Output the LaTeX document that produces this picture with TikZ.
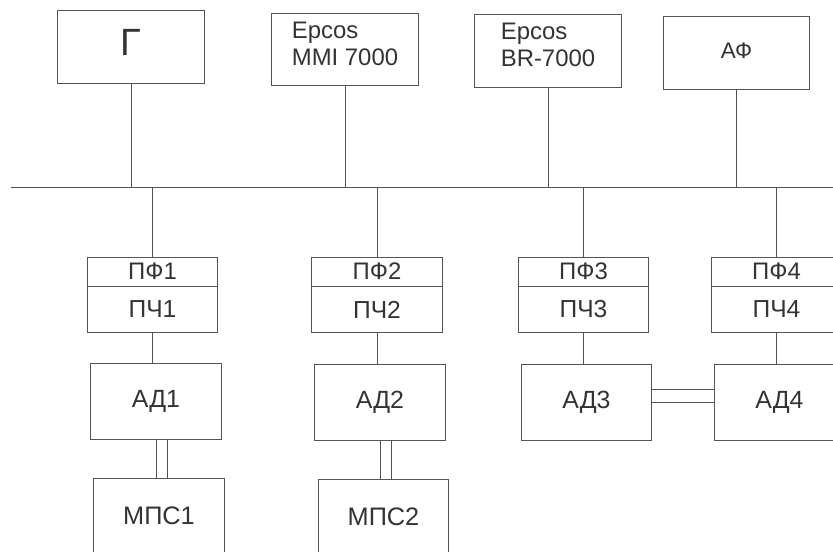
\documentclass[tikz,border=0pt]{standalone}
\usepackage{fontspec}
\setmainfont{Liberation Sans}
\usetikzlibrary{positioning,calc}
\definecolor{linegray}{HTML}{555555}
\definecolor{textgray}{HTML}{333333}
\begin{document}
\begin{tikzpicture}[x=0.025cm, y=-0.025cm, line width=0.7pt, draw=linegray,
  blok/.style={draw=linegray, text=textgray, inner sep=0pt, minimum width=3.25cm, minimum height=1.9cm, font=\fontsize{17.7}{20}\selectfont},
  topblok/.style={blok, minimum width=3.65cm, minimum height=1.8cm, font=\fontsize{17}{19.2}\selectfont},
  pfblok/.style={blok, minimum height=0.725cm, font=\fontsize{17}{19}\selectfont},
  pcblok/.style={blok, minimum height=1.125cm, font=\fontsize{17.5}{20}\selectfont}]
				% рамка рисунка
				\useasboundingbox (0,0) rectangle (833,551);
				\clip (0,0) rectangle (833,551);
				
				% верхние блоки
				\node[topblok, text depth=0.25cm, font=\fontsize{27}{30}\selectfont] (gen) at (131,47) {Г};
				\node[topblok, align=left, text depth=0.3cm] (mmi) at (345,49.5) {Epcos\\MMI 7000};
				\node[topblok, align=left, text depth=0.3cm] (br) at (548,51) {Epcos\\BR-7000};
				\node[topblok, text depth=0.12cm, font=\fontsize{16}{19}\selectfont] (af) at (736.5,53) {АФ};
				
				% шина
				\coordinate (busL) at (11,187);
				\coordinate (busR) at (833,187);
				\draw (busL) -- (busR);
				\foreach \n in {gen,mmi,br,af}
					\draw (\n.south) -- (\n.south |- busL);
				
				% ПФ и ПЧ
				\foreach \i/\x in {1/152.5, 2/377, 3/583.5, 4/776.5} {
					\node[pfblok] (pf\i) at (\x,271.5) {ПФ\i};
					\node[pcblok, below=0pt of pf\i] (pc\i) {ПЧ\i};
					\draw (pf\i.north) -- (pf\i.north |- busL);
				}
				
				% двигатели
				\foreach \i/\x/\y in {1/156/401, 2/380/402.5, 3/586.5/402.5, 4/779.5/402.5} {
					\node[blok] (ad\i) at (\x,\y) {АД\i};
					\draw (pc\i.south) -- (pc\i.south |- ad\i.north);
				}
				
				% МПС
				\node[blok, font=\fontsize{18}{21}\selectfont] (mps1) at (159,516) {МПС1};
				\node[blok, font=\fontsize{18}{21}\selectfont] (mps2) at (383.5,517) {МПС2};
				
				% двойные связи
				\foreach \d in {-3,8} {
					\coordinate (m) at ($(mps1.north)+(\d,0)$);
					\draw (m) -- (m |- ad1.south);
				}
				\foreach \d in {-3.5,7.5} {
					\coordinate (m) at ($(mps2.north)+(\d,0)$);
					\draw (m) -- (m |- ad2.south);
				}
				\foreach \d in {-13.5,-0.5} {
					\coordinate (h) at ($(ad3.east)+(0,\d)$);
					\draw (h) -- (h -| ad4.west);
				}
\end{tikzpicture}
\end{document}
